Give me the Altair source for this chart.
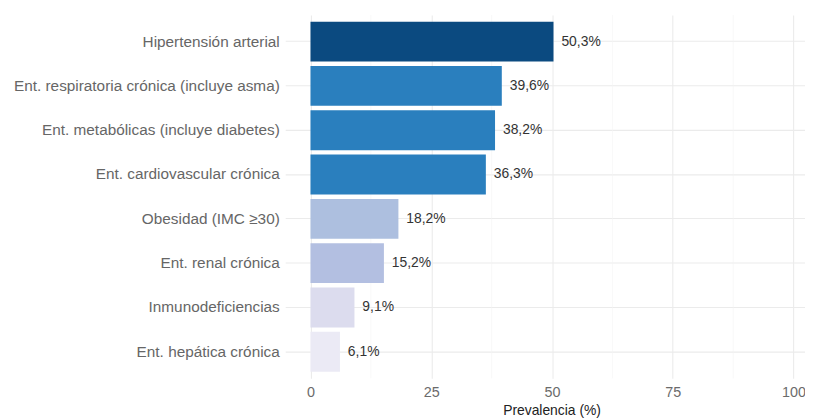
import altair as alt
import pandas as pd

categorias = [
    "Hipertensión arterial",
    "Ent. respiratoria crónica (incluye asma)",
    "Ent. metabólicas (incluye diabetes)",
    "Ent. cardiovascular crónica",
    "Obesidad (IMC ≥30)",
    "Ent. renal crónica",
    "Inmunodeficiencias",
    "Ent. hepática crónica",
]
prevalencia = [50.3, 39.6, 38.2, 36.3, 18.2, 15.2, 9.1, 6.1]
colores = ["#0b4a80", "#2a7fbe", "#2a7fbe", "#2a7fbe", "#adbfdf", "#b3bfe1", "#dcdcee", "#ebeaf5"]
ticks_x = [0, 25, 50, 75, 100]
minor_x = [12.5, 37.5, 62.5, 87.5]

df = pd.DataFrame({
    "cat": categorias,
    "val": prevalencia,
    "lab": [f"{v:.1f}".replace(".", ",") + "%" for v in prevalencia],
})
df_minor = pd.DataFrame({"m": minor_x})

FONT = "Liberation Sans"
xscale = alt.Scale(domain=[-5.23, 102.36], nice=False, zero=False)
yscale = alt.Scale(domain=categorias, paddingInner=0.1, paddingOuter=0.15)

xaxis = alt.Axis(
    values=ticks_x,
    title="Prevalencia (%)",
    grid=True,
    gridColor="#ebebeb",
    gridWidth=1.1,
    ticks=False,
    domain=False,
    labelFont=FONT,
    labelFontSize=14.5,
    labelColor="#6b6b6b",
    labelPadding=7,
    titleFont=FONT,
    titleFontSize=14,
    titleFontWeight="normal",
    titleColor="#222222",
    titlePadding=5,
    titleX=269,
)

minor = alt.Chart(df_minor).mark_rule(color="#f3f3f3", strokeWidth=0.6).encode(
    x=alt.X("m:Q", scale=xscale, axis=xaxis, title="Prevalencia (%)")
)

bars = alt.Chart(df).mark_bar().encode(
    x=alt.X("val:Q", scale=xscale, axis=xaxis, title="Prevalencia (%)"),
    x2=alt.datum(0),
    y=alt.Y(
        "cat:N",
        scale=yscale,
        sort=categorias,
        axis=alt.Axis(
            title=None,
            grid=True,
            gridColor="#ebebeb",
            gridWidth=1.1,
            bandPosition=0.5,
            ticks=False,
            domain=False,
            labelFont=FONT,
            labelFontSize=15.5,
            labelColor="#666666",
            labelPadding=6,
            labelLimit=400,
        ),
    ),
    color=alt.Color("cat:N", scale=alt.Scale(domain=categorias, range=colores), legend=None),
)

texts = alt.Chart(df).mark_text(
    align="left", baseline="middle", dx=8, font=FONT, fontSize=14, color="#333333"
).encode(
    x=alt.X("val:Q", scale=xscale, axis=xaxis, title="Prevalencia (%)"),
    y=alt.Y("cat:N", scale=yscale, sort=categorias),
    text="lab:N",
)

chart = (
    alt.layer(minor, bars, texts)
    .properties(
        width=525,
        height=367,
        background="white",
        autosize=alt.AutoSizeParams(type="none"),
        padding={"left": 280, "top": 5, "right": 0, "bottom": 39},
    )
    .configure_view(strokeWidth=0, stroke="transparent")
)

chart.save("out.html", embed_options={"renderer": "svg", "actions": False})
